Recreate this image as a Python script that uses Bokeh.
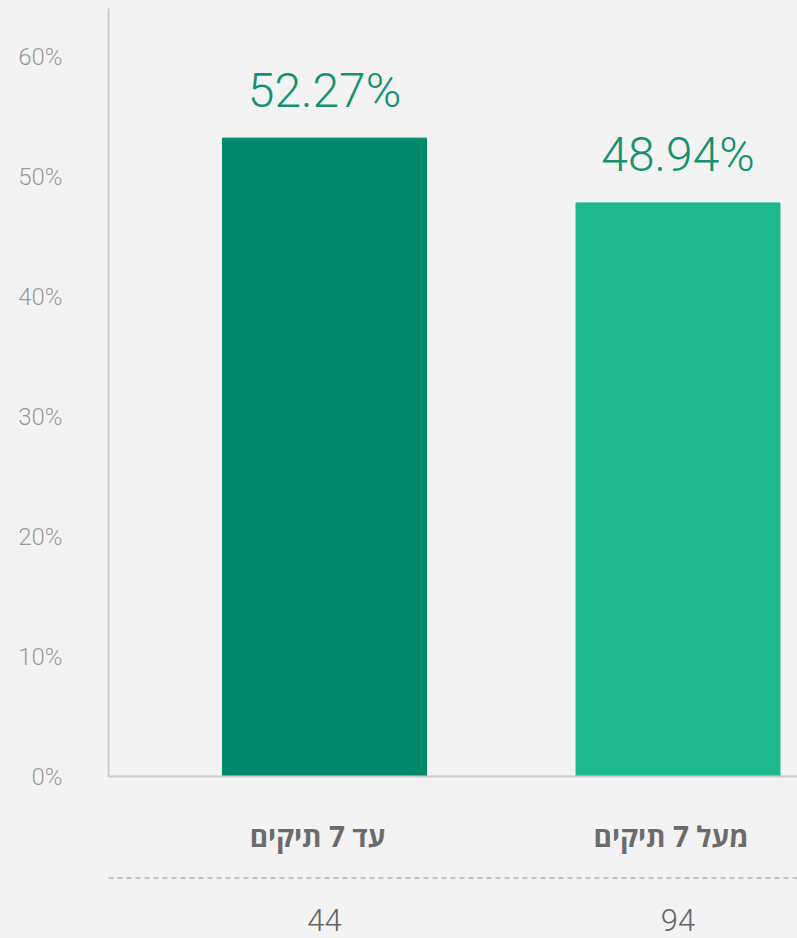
from bokeh.plotting import figure
from bokeh.models import ColumnDataSource, Span, FixedTicker, PrintfTickFormatter, Range1d
from bokeh.core.properties import value
from bokeh.embed import file_html
from bokeh.resources import INLINE

# ---- data ----
categories = ["עד 7 תיקים", "מעל 7 תיקים"]
bar_values = [53.2, 47.8]          # bar heights as drawn (%)
value_labels = ["52.27%", "48.94%"]
counts = ["44", "94"]
bar_colors = ["#00896b", "#1eb890"]
y_ticks = [0, 10, 20, 30, 40, 50, 60]

x = list(range(len(categories)))
src = ColumnDataSource(dict(x=x, top=bar_values, label=value_labels,
                            cat=categories, count=counts, color=bar_colors))

BG = "#f3f3f3"
p = figure(width=797, height=938, output_backend="svg", toolbar_location=None,
           x_range=Range1d(-0.611, 1.338), y_range=Range1d(-13.5, 64.67),
           x_axis_location=None,
           min_border_left=108, min_border_right=0, min_border_top=0, min_border_bottom=0,
           background_fill_color=BG, border_fill_color=BG, outline_line_color=None)
p.grid.visible = False

p.vbar(x="x", top="top", bottom=0, width=0.577, color="color", source=src)

# baseline
p.add_layout(Span(location=0, dimension="width", line_color="#cccccc", line_width=2))
# dashed separator
p.add_layout(Span(location=-8.46, dimension="width", line_color="#9a9a9a",
                  line_width=1, line_dash="5 4"))

lf = value("'Roboto Light', Roboto")
p.text(x="x", y="top", text="label", source=src, y_offset=-48,
       text_align="center", text_baseline="alphabetic",
       text_font=lf, text_font_size="48px", text_color="#14916f")

p.text(x="x", y=0, text="cat", source=src, y_offset=59, x_offset=-7,
       text_align="center", text_baseline="middle",
       text_font=value("Open Sans"), text_font_style="bold",
       text_font_size="28px", text_color="#6b6b6b")

p.text(x="x", y=0, text="count", source=src, y_offset=143,
       text_align="center", text_baseline="middle",
       text_font=lf, text_font_size="31px", text_color="#666666")

ax = p.yaxis[0]
ax.ticker = FixedTicker(ticks=y_ticks)
ax.formatter = PrintfTickFormatter(format="%d%%")
ax.bounds = (0, 64)
ax.axis_line_color = "#cccccc"
ax.axis_line_width = 2
ax.major_tick_line_color = None
ax.minor_tick_line_color = None
ax.major_label_standoff = 40
ax.major_label_text_font = "'Roboto Light', Roboto"
ax.major_label_text_font_size = "24px"
ax.major_label_text_color = "#9a9a9a"

html = file_html(p, INLINE)
html = html.replace("<head>", "<head><style>body{background:#f3f3f3;}</style>", 1)
open("out.html", "w").write(html)
